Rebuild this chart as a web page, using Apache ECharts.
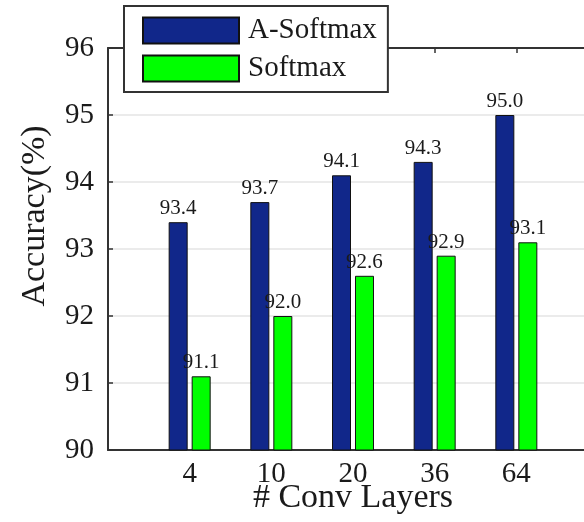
<!DOCTYPE html>
<html>
<head>
<meta charset="utf-8">
<title>Accuracy vs Conv Layers</title>
<script src="https://cdn.jsdelivr.net/npm/echarts@6/dist/echarts.min.js"></script>
<style>
  html, body { margin: 0; padding: 0; background: #fff; }
  #chart { width: 584px; height: 522px; }
</style>
</head>
<body>
<div id="chart"></div>
<script>
// empty slots at both ends keep the first bar one step off the y axis
const layers = ['', '4', '10', '20', '36', '64', ''];
const aSoftmax = [null, 93.4, 93.7, 94.1, 94.3, 95.0, null];
const softmax = [null, 91.1, 92.0, 92.6, 92.9, 93.1, null];
const yTicks = [90, 91, 92, 93, 94, 95, 96];

const serif = "'Liberation Serif', 'Times New Roman', serif";
const ink = '#1a1a1a';

const chart = echarts.init(document.getElementById('chart'));

const barLabel = {
  show: true,
  position: 'top',
  distance: 3,
  fontFamily: serif,
  fontSize: 21,
  color: ink,
  formatter: (p) => p.value.toFixed(1),
};

const option = {
  animation: false,
  backgroundColor: '#fff',
  grid: {
    left: 108,
    top: 48,
    right: -14,
    bottom: 72,
    outerBoundsMode: 'none',
    containLabel: false,
  },
  legend: {
    left: 124,
    top: 6,
    orient: 'vertical',
    itemWidth: 96,
    itemHeight: 26,
    itemGap: 9,
    padding: [10, 11, 9, 18],
    backgroundColor: '#fff',
    borderColor: '#333',
    borderWidth: 2,
    icon: 'rect',
    textStyle: { fontFamily: serif, fontSize: 29, color: ink, padding: [0, 0, 0, 4] },
    data: ['A-Softmax', 'Softmax'],
  },
  xAxis: [
    {
      type: 'category',
      data: layers,
      boundaryGap: false,
      name: '# Conv Layers',
      nameLocation: 'middle',
      nameGap: 31,
      nameMoveOverlap: false,
      nameTextStyle: { fontFamily: serif, fontSize: 34, color: ink },
      axisLine: { lineStyle: { color: '#333', width: 2 } },
      axisTick: { show: false },
      axisLabel: { fontFamily: serif, fontSize: 29, color: ink, margin: 10 },
      splitLine: { show: false },
    },
    {
      type: 'category',
      position: 'top',
      data: layers,
      boundaryGap: false,
      axisLine: { lineStyle: { color: '#333', width: 2 } },
      axisTick: { show: true, inside: true, length: 5, lineStyle: { color: '#333', width: 1.5 } },
      axisLabel: { show: false },
      splitLine: { show: false },
    },
  ],
  yAxis: {
    type: 'value',
    min: yTicks[0],
    max: yTicks[yTicks.length - 1],
    interval: 1,
    name: 'Accuracy(%)',
    nameLocation: 'middle',
    nameGap: 56,
    nameMoveOverlap: false,
    nameRotate: 90,
    nameTextStyle: {
      fontFamily: serif,
      fontSize: 34,
      color: ink,
      padding: [0, 0, 0, 66],
    },
    axisLine: { show: true, lineStyle: { color: '#333', width: 2 } },
    axisTick: { show: true, inside: true, length: 5, lineStyle: { color: '#333', width: 1.5 } },
    axisLabel: { fontFamily: serif, fontSize: 29, color: ink, margin: 14 },
    splitLine: { lineStyle: { color: '#e4e4e4', width: 1.5 } },
  },
  series: [
    {
      name: 'A-Softmax',
      type: 'bar',
      data: aSoftmax,
      barWidth: 19,
      barGap: '21%',
      itemStyle: { color: '#11278a', borderColor: '#111', borderWidth: 1 },
      label: barLabel,
    },
    {
      name: 'Softmax',
      type: 'bar',
      data: softmax,
      barWidth: 19,
      itemStyle: { color: '#00ff00', borderColor: '#111', borderWidth: 1 },
      label: barLabel,
    },
  ],
};

chart.setOption(option);
window.addEventListener('resize', chart.resize);
</script>
</body>
</html>
